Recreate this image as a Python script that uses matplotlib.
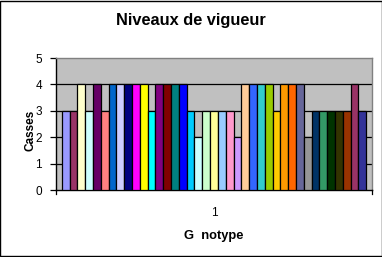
import matplotlib
matplotlib.use("Agg")
import matplotlib.pyplot as plt
import numpy as np

# one category ("1"), 39 series -- Excel default palette order
colors = ["#9999FF", "#993366", "#FFFFCC", "#CCFFFF", "#660066", "#FF8080", "#0066CC",
          "#CCCCFF", "#000080", "#FF00FF", "#FFFF00", "#00FFFF", "#800080", "#800000",
          "#008080", "#0000FF", "#00CCFF", "#CCFFFF", "#CCFFCC", "#FFFF99", "#99CCFF",
          "#FF99CC", "#CC99FF", "#FFCC99", "#3366FF", "#33CCCC", "#99CC00", "#FFCC00",
          "#FF9900", "#FF6600", "#666699", "#969696", "#003366", "#339966", "#003300",
          "#333300", "#993300", "#993366", "#333399"]
values = [3, 3, 4, 3, 4, 3, 4, 4, 4, 4, 4, 3, 4, 4, 4, 4, 3, 2, 3, 3, 3, 3, 2, 4,
          4, 4, 4, 3, 4, 4, 4, 2, 3, 3, 3, 3, 3, 4, 3]
yticks = [0, 1, 2, 3, 4, 5]
category = "1"

plt.rcParams["font.family"] = ["Liberation Sans", "DejaVu Sans"]

fig = plt.figure(figsize=(3.82, 2.57), dpi=100)
fig.patch.set_facecolor("white")
fig.add_artist(plt.Rectangle((0.0013, 0.002), 0.9974, 0.996, transform=fig.transFigure,
                             fill=False, edgecolor="black", lw=1.0))

ax = fig.add_axes([0.1466, 0.2607, 0.8272, 0.5136])
ax.set_facecolor("#C0C0C0")

n = len(values)
span = 0.963
w = span / n
x0 = 0.5 - span / 2
xs = x0 + w * (np.arange(n) + 0.5)
ax.bar(xs, values, width=w, color=colors, edgecolor="black", linewidth=0.9, zorder=3)

for y in yticks[1:-1]:
    ax.axhline(y, color="black", lw=0.9, zorder=1)

ax.set_xlim(0, 1)
ax.set_ylim(0, 5)
ax.set_yticks(yticks)
ax.set_yticklabels([str(t) for t in yticks], fontsize=8.5)
ax.set_xticks([0.5])
ax.set_xticklabels([category], fontsize=8.5)
ax.tick_params(axis="x", length=0, pad=12)
ax.tick_params(axis="y", length=4, width=0.9, direction="out", pad=6)
for xe in (0, 1):
    ax.plot([xe, xe], [0, -0.15], color="black", lw=0.9, clip_on=False, zorder=5)

ax.spines["left"].set_color("black")
ax.spines["bottom"].set_color("black")
ax.spines["top"].set_color("#808080")
ax.spines["right"].set_color("#808080")
for s in ax.spines.values():
    s.set_linewidth(1.0)

fig.text(0.5, 0.92, "Niveaux de vigueur", ha="center", va="center",
         fontsize=11.8, fontweight="bold")
fig.text(0.56, 0.083, "G  notype", ha="center", va="center",
         fontsize=9.3, fontweight="bold")
fig.text(0.08, 0.494, "Casses", ha="center", va="center", rotation=90,
         fontsize=8.5, fontweight="bold")

fig.savefig("out.png", dpi=100)
